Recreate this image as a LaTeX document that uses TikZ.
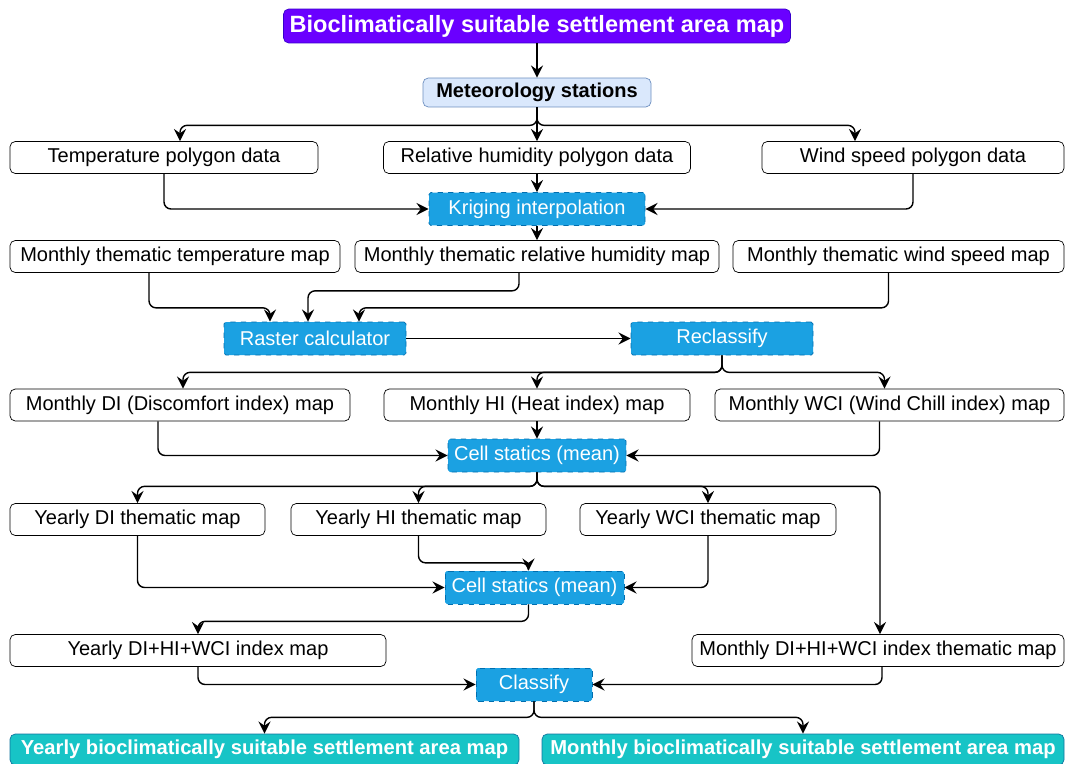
\documentclass[tikz,border=0pt]{standalone}
\usepackage{fontspec}
\setmainfont{Liberation Sans}
\usetikzlibrary{calc,arrows.meta}
\definecolor{violetfill}{HTML}{6A00FF}
\definecolor{violetline}{HTML}{3700CC}
\definecolor{stationfill}{HTML}{DAE8FC}
\definecolor{stationline}{HTML}{6C8EBF}
\definecolor{toolfill}{HTML}{1BA1E2}
\definecolor{toolline}{HTML}{006EAF}
\definecolor{resultfill}{HTML}{17C4C6}
\definecolor{resultline}{HTML}{10739E}
\tikzset{
  wd/.style={minimum width=#1*0.02cm},
  datamap/.style={draw, rounded corners=3pt, fill=white, inner sep=0pt, minimum height=0.64cm, font=\fontsize{11.4}{13}\selectfont},
  tool/.style={draw=toolline, dashed, fill=toolfill, text=white, rounded corners=1pt, inner sep=0pt, minimum height=0.66cm, font=\fontsize{11.4}{13}\selectfont},
  result/.style={draw=resultline, fill=resultfill, text=white, rounded corners=3pt, inner sep=0pt, minimum height=0.62cm, font=\bfseries\fontsize{11.5}{13}\selectfont},
  flow/.style={-{Stealth[length=7pt,width=7pt,inset=2.5pt]}, line width=0.8pt, rounded corners=4pt}
}
\begin{document}
\begin{tikzpicture}[x=0.02cm, y=-0.02cm]
			%%%%% START %%%%%
			\useasboundingbox (0,0) rectangle (1065,764);
			
			\node[draw=violetline, fill=violetfill, text=white, rounded corners=3pt, inner sep=0pt, wd=507, minimum height=0.68cm, font=\bfseries\fontsize{13.4}{15}\selectfont] (title) at (537,26) {Bioclimatically suitable settlement area map};
			\node[draw=stationline, fill=stationfill, rounded corners=3pt, inner sep=0pt, wd=228, minimum height=0.58cm, font=\bfseries\fontsize{11.4}{13}\selectfont] (met) at (537,92.5) {Meteorology stations};
			
			\node[datamap, wd=308] (temp) at (164,157.5) {Temperature polygon data};
			\node[datamap, wd=307] (rh) at (537,157.5) {Relative humidity polygon data};
			\node[datamap, wd=302] (wind) at (913,157.5) {Wind speed polygon data};
			\node[tool, wd=216] (krig) at (537,209) {Kriging interpolation};
			
			\node[datamap, wd=330] (mtemp) at (175,256.5) {Monthly thematic temperature map};
			\node[datamap, wd=364] (mrh) at (537,256.5) {Monthly thematic relative humidity map};
			\node[datamap, wd=331] (mwind) at (898.5,256.5) {Monthly thematic wind speed map};
			\node[tool, wd=182] (raster) at (315,338.5) {Raster calculator};
			\node[tool, wd=182] (recl) at (722,338.5) {Reclassify};
			
			\node[datamap, wd=340] (mdi) at (180,405) {Monthly DI (Discomfort index) map};
			\node[datamap, wd=306] (mhi) at (537,405) {Monthly HI (Heat index) map};
			\node[datamap, wd=349] (mwci) at (889.5,405) {Monthly WCI (Wind Chill index) map};
			\node[tool, wd=178] (cs1) at (537,455.5) {Cell statics (mean)};
			
			\node[datamap, wd=255] (ydi) at (137.5,519.5) {Yearly DI thematic map};
			\node[datamap, wd=255] (yhi) at (418.5,519.5) {Yearly HI thematic map};
			\node[datamap, wd=256] (ywci) at (708,519.5) {Yearly WCI thematic map};
			\node[tool, wd=179] (cs2) at (534.5,587.5) {Cell statics (mean)};
			
			\node[datamap, wd=376] (ycomb) at (198,650.5) {Yearly DI+HI+WCI index map};
			\node[datamap, wd=372] (mcomb) at (878,650.5) {Monthly DI+HI+WCI index thematic map};
			\node[tool, wd=116] (cls) at (534,684.5) {Classify};
			
			\node[result, wd=509] (ybio) at (264.5,749.5) {Yearly bioclimatically suitable settlement area map};
			\node[result, wd=522] (mbio) at (803,749.5) {Monthly bioclimatically suitable settlement area map};
			
			% stations to polygon data
			\draw[flow] (title) -- (met);
			\draw[flow] (met.south) -- ++(0,18) -| ($(temp.north)+(16,0)$);
			\draw[flow] (met.south) -- ++(0,18) -| ($(wind.north)+(-58,0)$);
			\draw[flow] (met.south) -- (rh.north);
			\draw[flow] (temp.south) |- (krig.west);
			\draw[flow] (wind.south) |- (krig.east);
			\draw[flow] (rh.south) -- (krig.north);
			\draw[flow] (krig.south) -- (mrh.north);
			
			% thematic maps to raster calculator
			\draw[flow] ($(mtemp.south)+(-26,0)$) -- ++(0,35) -| ($(raster.north)+(-45,0)$);
			\draw[flow] ($(mrh.south)+(-18,0)$) -- ++(0,18) -| ($(raster.north)+(-7,0)$);
			\draw[flow] ($(mwind.south)+(-10,0)$) -- ++(0,35) -| ($(raster.north)+(44,0)$);
			\draw[flow] (raster.east) -- (recl.west);
			
			\draw[flow] (recl.south) -- ++(0,17) -| ($(mdi.north)+(3,0)$);
			\draw[flow] (recl.south) -- ++(0,17) -| (mhi.north);
			\draw[flow] (recl.south) -- ++(0,17) -| ($(mwci.north)+(-5,0)$);
			\draw[flow] ($(mdi.south)+(-22,0)$) |- (cs1.west);
			\draw[flow] ($(mwci.south)+(-10,0)$) |- (cs1.east);
			\draw[flow] (mhi.south) -- (cs1.north);
			
			% yearly maps
			\draw[flow] (cs1.south) -- ++(0,14) -| (ydi.north);
			\draw[flow] (cs1.south) -- ++(0,14) -| (yhi.north);
			\draw[flow] (cs1.south) -- ++(0,14) -| (ywci.north);
			\draw[flow] (cs1.south) -- ++(0,14) -| ($(mcomb.north)+(2,0)$);
			\draw[flow] (ydi.south) |- (cs2.west);
			\draw[flow] (ywci.south) |- (cs2.east);
			\draw[flow] (yhi.south) -- ++(0,27) -| ($(cs2.north)+(-6,0)$);
			\draw[flow] ($(cs2.south)+(-6,0)$) -- ++(0,17) -| (ycomb.north);
			
			% classification
			\draw[flow] (ycomb.south) |- (cls.west);
			\draw[flow] ($(mcomb.south)+(4,0)$) |- (cls.east);
			\draw[flow] (cls.south) -- ++(0,16) -| (ybio.north);
			\draw[flow] (cls.south) -- ++(0,16) -| (mbio.north);
			%%%%% END %%%%%
\end{tikzpicture}
\end{document}
